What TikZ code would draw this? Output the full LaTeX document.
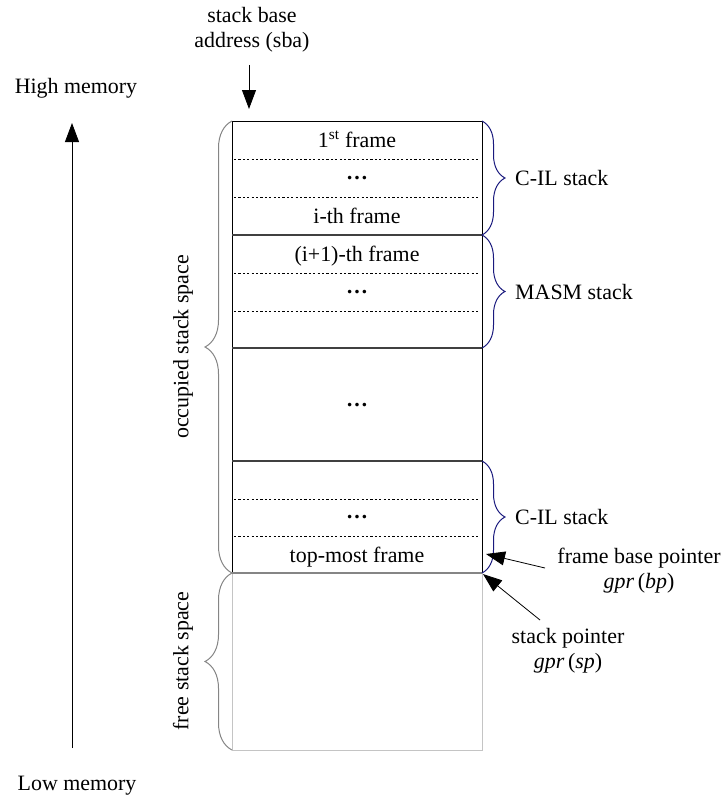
\documentclass[tikz,border=0pt]{standalone}
\usepackage{fontspec}
\setmainfont{Liberation Serif}
\usetikzlibrary{arrows.meta,decorations.pathreplacing}

\definecolor{bracenavy}{HTML}{1A1A7E}
\definecolor{bracegray}{HTML}{858585}
\definecolor{freegray}{HTML}{C4C4C4}
\definecolor{rulegray}{HTML}{404040}

\begin{document}
\begin{tikzpicture}[x=1bp,y=-1bp,
  txt/.style={font=\fontsize{22}{25}\selectfont, inner sep=0pt},
  dots/.style={font=\fontsize{22}{25}\selectfont\bfseries, inner sep=0pt},
  sep/.style={rulegray, line width=1.3bp},
  slot/.style={dash pattern=on 2.2bp off 2.2bp, line width=0.7bp},
  ptr/.style={line width=0.8bp, -{Triangle[length=19bp,width=14bp]}},
  rbrace/.style={bracenavy, line width=1bp, decorate,
                 decoration={brace, amplitude=23bp}},
  lbrace/.style={bracegray, line width=1bp, decorate,
                 decoration={brace, amplitude=27bp}},
]
\useasboundingbox (0,0) rectangle (723,799);

% corners of the stack
\coordinate (tl) at (232,121);
\coordinate (tr) at (482,121);
\coordinate (bl) at (232,573);
\coordinate (br) at (482,573);
\coordinate (fl) at (232,750);
\coordinate (fr) at (482,750);

% free stack space
\draw[freegray, line width=1bp] (bl) -- (fl) -- (fr) -- (br);

% occupied stack space
\draw[line width=1bp] (bl) -- (tl) -- (tr) -- (br);
\draw[sep] (232,235) -- (482,235);
\draw[sep] (232,348) -- (482,348);
\draw[sep] (232,461) -- (482,461);
\draw[bracegray, line width=1.4bp] (bl) -- (br);

% frame slots
\foreach \y in {159,197,273,311,499,536}
  \draw[slot] (234,\y) -- (480,\y);

% frame labels
\node[txt, anchor=base] (f1)   at (357,147) {1\textsuperscript{st} frame};
\node[dots, anchor=base] (d1)  at (357,179.5) {…};
\node[txt, anchor=base] (fi)   at (357,223) {i-th frame};
\node[txt, anchor=base] (fi1)  at (357,261) {(i+1)-th frame};
\node[dots, anchor=base] (d2)  at (357,293.5) {…};
\node[dots, anchor=base] (d3)  at (357,406) {…};
\node[dots, anchor=base] (d4)  at (357,518.5) {…};
\node[txt, anchor=base] (ftop) at (357,562) {top-most frame};

% right braces
\draw[rbrace] (482,121) -- (482,235);
\draw[rbrace] (482,235) -- (482,348);
\draw[rbrace] (482,461) -- (482,573);
\node[txt, anchor=base west] (cil1) at (515,185) {C-IL stack};
\node[txt, anchor=base west] (masm) at (515,299) {MASM stack};
\node[txt, anchor=base west] (cil2) at (515,524) {C-IL stack};

% left braces
\draw[lbrace] (bl) -- (tl);
\draw[lbrace] (fl) -- (bl);
\node[txt, rotate=90] (occ)  at (183,347) {occupied stack space};
\node[txt, rotate=90] (free) at (183,661) {free stack space};

% stack base address
\node[txt, align=center] (sba) at (252,30) {stack base\\address (sba)};
\coordinate (sbaTail) at (249,65);
\coordinate (sbaTip)  at (249,109);
\draw[ptr] (sbaTail) -- (sbaTip);

% memory direction
\node[txt, anchor=base] (high) at (76,93)  {High memory};
\node[txt, anchor=base] (low)  at (77,790) {Low memory};
\coordinate (lowEnd)  at (72,748);
\coordinate (highEnd) at (72,123);
\draw[ptr] (lowEnd) -- (highEnd);

% pointers
\node[txt, anchor=base] (fbp)   at (639,563) {frame base pointer};
\node[txt, anchor=base] (gbp)   at (639,588) {\textit{gpr}\,(\textit{bp})};
\node[txt, anchor=base] (sp)    at (568,643) {stack pointer};
\node[txt, anchor=base] (gsp)   at (568,668) {\textit{gpr}\,(\textit{sp})};
\coordinate (fbpTail) at (545,568);
\coordinate (fbpTip)  at (486,554);
\coordinate (spTail)  at (540,620);
\coordinate (spTip)   at (483,574);
\draw[ptr] (fbpTail) -- (fbpTip);
\draw[ptr] (spTail) -- (spTip);
\end{tikzpicture}
\end{document}
